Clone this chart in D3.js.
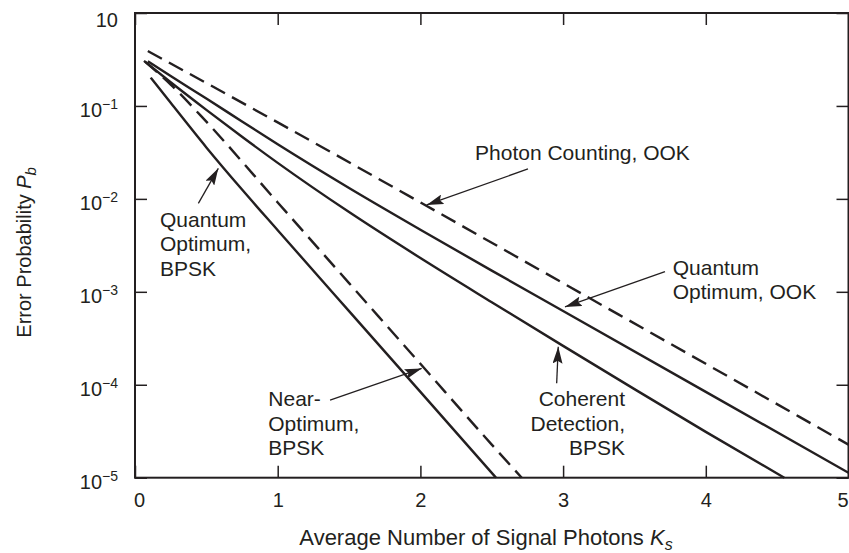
<!DOCTYPE html>
<html>
<head>
<meta charset="utf-8">
<script src="https://cdn.jsdelivr.net/npm/d3@7"></script>
<style>
  body { margin: 0; background: #fff; }
  svg text { font-family: "Liberation Sans", Arial, Helvetica, sans-serif; fill: #231f20; }
</style>
</head>
<body>
<svg width="849" height="553"></svg>
<script>
var width = 849, height = 553;
var margin = {top: 13, right: 0.5, bottom: 75.3, left: 135};
var innerW = width - margin.left - margin.right,
    innerH = height - margin.top - margin.bottom;

// tick values and labels
var xTickValues = [0, 1, 2, 3, 4, 5];
var yTickValues = [1, 1e-1, 1e-2, 1e-3, 1e-4, 1e-5];
var yTickBase = ["10", "10", "10", "10", "10", "10"];
var yTickSup = ["", "\u22121", "\u22122", "\u22123", "\u22124", "\u22125"];

// curves: K_s and P_b
var photonOokK = [0.09, 1, 2, 3, 4, 5];
var photonOokP = [0.39, 0.0665, 0.00916, 0.00124, 1.68e-4, 2.27e-5];

var quantumOokK = [0.09, 0.25, 0.5, 0.75, 1, 1.5, 2, 2.5, 3, 4, 5];
var quantumOokP = [0.302, 0.210, 0.120, 0.0681, 0.0387, 0.0131, 0.00466, 0.00169, 6.21e-4, 8.38e-5, 1.13e-5];

var coherentK = [0.063, 0.25, 0.5, 0.75, 1, 1.5, 2, 2.5, 3, 3.5, 4, 4.55];
var coherentP = [0.305, 0.180, 0.0908, 0.0466, 0.0244, 0.00721, 0.00231, 7.73e-4, 2.62e-4, 8.97e-5, 3.11e-5, 1.0e-5];

var quantumBpskK = [0.11, 0.25, 0.5, 0.75, 1, 1.5, 2, 2.53];
var quantumBpskP = [0.2017, 0.108, 0.0358, 0.0126, 0.0046, 6.2e-4, 8.39e-5, 1.0e-5];

var nearBpskK = [0.07, 0.25, 0.5, 1, 1.5, 2, 2.5, 2.71];
var nearBpskP = [0.30, 0.17, 0.0677, 0.00916, 0.00124, 1.68e-4, 2.27e-5, 1.0e-5];

// annotation text and arrows (in K_s / P_b units)
var labelLines = [["Photon Counting, OOK"], ["Quantum", "Optimum, OOK"], ["Coherent", "Detection,", "BPSK"],
                  ["Near-", "Optimum,", "BPSK"], ["Quantum", "Optimum,", "BPSK"]];
var labelAnchor = ["start", "start", "end", "start", "start"];
var labelK = [2.383, 3.768, 3.434, 0.934, 0.175];
var labelP = [2.62e-2, 1.52e-3, 5.9e-5, 5.9e-5, 5.0e-3];
var arrowFrom = [[2.754, 2.1e-2], [3.714, 1.65e-3], [2.955, 1.04e-4], [1.367, 6.85e-5], [0.444, 8.96e-3]];
var arrowTo = [[2.044, 8.6e-3], [3.013, 6.87e-4], [2.966, 2.57e-4], [2.009, 1.5e-4], [0.584, 2.13e-2]];

var ink = "#231f20";

var svg = d3.select("svg");
var g = svg.append("g").attr("transform", `translate(${margin.left},${margin.top})`);

var x = d3.scaleLinear().domain([0, 5]).range([0, innerW]);
var y = d3.scaleLog().domain([1e-5, 1]).range([innerH, 0]);

// arrow head
svg.append("defs").append("marker")
    .attr("id", "head")
    .attr("markerUnits", "userSpaceOnUse")
    .attr("viewBox", "0 0 17 10")
    .attr("refX", 17).attr("refY", 5)
    .attr("markerWidth", 17).attr("markerHeight", 10)
    .attr("orient", "auto")
  .append("path")
    .attr("d", "M0,0 L17,5 L0,10 L3,5 Z")
    .attr("fill", ink);

// ticks on all four sides, pointing inward
function styleAxis(sel) {
  sel.select(".domain").remove();
  sel.selectAll(".tick line").attr("stroke", ink).attr("stroke-width", 1.5);
}

var xAxis = g.append("g")
    .attr("transform", `translate(0,${innerH})`)
    .call(d3.axisBottom(x).tickValues(xTickValues).tickSize(-12).tickPadding(0).tickFormat(d3.format("d")))
    .call(styleAxis);
xAxis.selectAll(".tick text")
    .attr("y", 29).attr("dy", null)
    .attr("x", d => d === 0 ? 4 : (d === 5 ? -6 : 0))
    .style("font-size", "20px")
    .attr("fill", ink);

g.append("g")
    .call(d3.axisTop(x).tickValues(xTickValues).tickSize(-12).tickFormat(""))
    .call(styleAxis);

var yAxis = g.append("g")
    .call(d3.axisLeft(y).tickValues(yTickValues).tickSize(-12).tickFormat(""))
    .call(styleAxis);
yAxis.selectAll(".tick").each(function(d, i) {
  var t = d3.select(this).append("text")
      .attr("x", -17).attr("y", yTickSup[i] ? 10.5 : 13)
      .attr("text-anchor", "end")
      .style("font-size", "20px");
  t.append("tspan").text(yTickBase[i]);
  if (yTickSup[i]) {
    t.append("tspan").attr("dy", -8).style("font-size", "14px").text(yTickSup[i]);
  }
});

g.append("g")
    .attr("transform", `translate(${innerW},0)`)
    .call(d3.axisRight(y).tickValues(yTickValues).tickSize(-12).tickFormat(""))
    .call(styleAxis);

// frame
g.append("rect")
    .attr("width", innerW).attr("height", innerH)
    .attr("fill", "none").attr("stroke", ink).attr("stroke-width", 2);

// curves
var curves = [
  {k: photonOokK, p: photonOokP, dash: "16,8"},
  {k: quantumOokK, p: quantumOokP, dash: null},
  {k: coherentK, p: coherentP, dash: null},
  {k: quantumBpskK, p: quantumBpskP, dash: null},
  {k: nearBpskK, p: nearBpskP, dash: "16,8"}
];

var line = d3.line()
    .curve(d3.curveMonotoneX)
    .x(d => x(d[0]))
    .y(d => y(d[1]));

g.selectAll(".curve")
    .data(curves)
    .enter()
    .append("path")
    .attr("class", "curve")
    .attr("d", c => line(d3.zip(c.k, c.p)))
    .attr("fill", "none")
    .attr("stroke", ink)
    .attr("stroke-width", 2.4)
    .attr("stroke-dasharray", c => c.dash);

// annotation arrows
g.selectAll(".arrow")
    .data(arrowFrom)
    .enter()
    .append("line")
    .attr("class", "arrow")
    .attr("x1", d => x(d[0])).attr("y1", d => y(d[1]))
    .attr("x2", (d, i) => x(arrowTo[i][0])).attr("y2", (d, i) => y(arrowTo[i][1]))
    .attr("stroke", ink)
    .attr("stroke-width", 1.3)
    .attr("marker-end", "url(#head)");

// annotation text
labelLines.forEach(function(lines, i) {
  var t = g.append("text")
      .attr("x", x(labelK[i])).attr("y", y(labelP[i]))
      .attr("text-anchor", labelAnchor[i])
      .style("font-size", "21px");
  lines.forEach(function(s, j) {
    t.append("tspan")
        .attr("x", x(labelK[i]))
        .attr("dy", j === 0 ? 0 : 24.5)
        .text(s);
  });
});

// axis titles
var xt = svg.append("text")
    .attr("x", 486).attr("y", 545)
    .attr("text-anchor", "middle")
    .style("font-size", "22px");
xt.append("tspan").text("Average Number of Signal Photons ");
xt.append("tspan").style("font-style", "italic").text("K");
xt.append("tspan").attr("dy", 5).style("font-size", "16px").style("font-style", "italic").text("s");

var yt = svg.append("text")
    .attr("transform", `translate(31,${margin.top + innerH / 2 + 7}) rotate(-90)`)
    .attr("text-anchor", "middle")
    .style("font-size", "20px");
yt.append("tspan").text("Error Probability ");
yt.append("tspan").style("font-style", "italic").text("P");
yt.append("tspan").attr("dy", 5).style("font-size", "15px").style("font-style", "italic").text("b");
</script>
</body>
</html>
